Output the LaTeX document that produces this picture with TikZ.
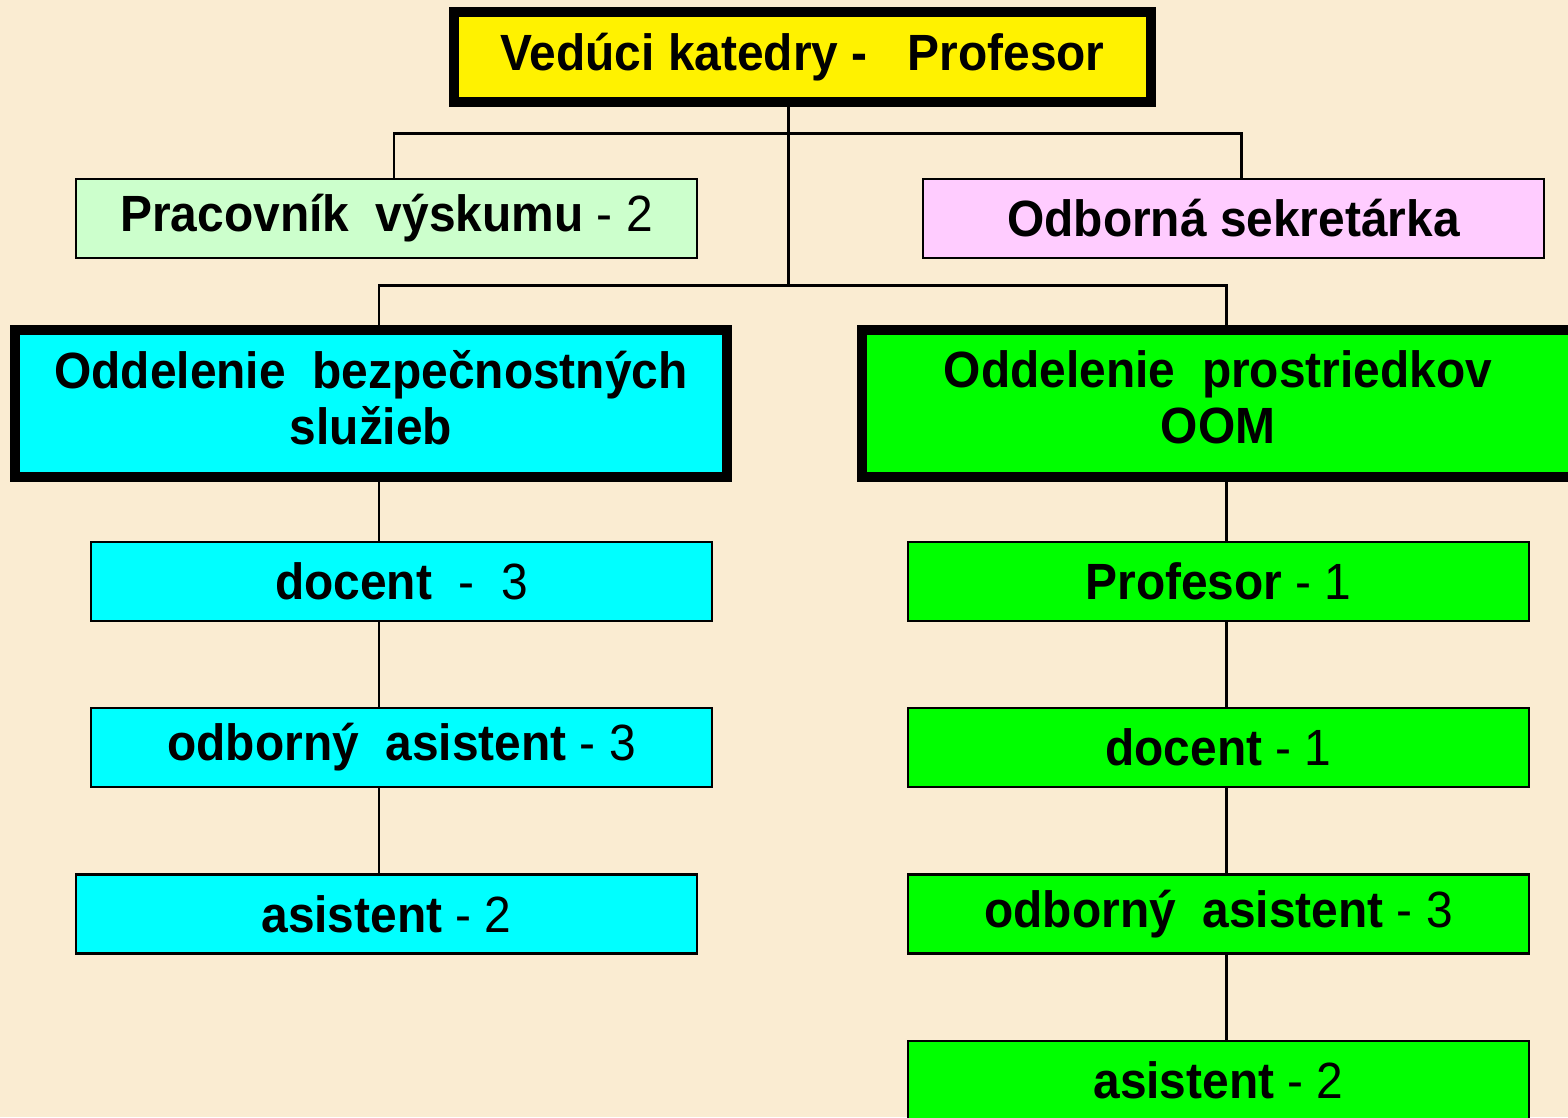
\documentclass[tikz,border=0pt]{standalone}
\usepackage{fontspec}
\setmainfont[FakeStretch=0.94]{Liberation Sans}
\definecolor{parch}{RGB}{250,236,210}
\definecolor{mint}{RGB}{204,255,204}
\definecolor{pinkbox}{RGB}{255,204,255}
\definecolor{cyanbox}{RGB}{0,255,255}
\definecolor{greenbox}{RGB}{0,255,0}
\tikzset{
  head/.style={draw=black,line width=5.7pt,inner sep=0pt,align=center,
    font=\bfseries\fontsize{29}{32}\selectfont},
  dept/.style={head,minimum width=712*0.02cm,minimum height=147*0.02cm,text depth=7pt},
  post/.style={draw=black,line width=1.2pt,inner sep=0pt,
    minimum width=621*0.02cm,minimum height=79*0.02cm,
    font=\bfseries\fontsize{29}{32}\selectfont},
  link/.style={line width=1.7pt}
}
\begin{document}
\begin{tikzpicture}[x=0.02cm,y=-0.02cm]
      \useasboundingbox (0,0) rectangle (1568,1117);
      \fill[parch] (0,0) rectangle (1568,1117);
      \node[head,fill=yellow,minimum width=697*0.02cm,minimum height=90*0.02cm] (chief) at (802.5,57) {Vedúci katedry -\ \ \ Profesor};
      \node[post,fill=mint] (res) at (386.5,218.5) {Pracovník\ \ výskumu \mdseries - 2};
      \node[post,fill=pinkbox] (sec) at (1233.5,218.5) {Odborná sekretárka};
      \node[dept,fill=cyanbox] (secdep) at (371,403.5) {Oddelenie\ \ bezpečnostných\\služieb};
      \node[dept,fill=greenbox] (oomdep) at (1218,403.5) {Oddelenie\ \ prostriedkov\\OOM};
      \node[post,fill=cyanbox] (ldoc) at (401.5,581.5) {docent\ \ \mdseries -\ \ 3};
      \node[post,fill=cyanbox] (lodb) at (401.5,747.5) {odborný\ \ asistent \mdseries - 3};
      \node[post,fill=cyanbox] (lasi) at (386.5,914) {asistent \mdseries - 2};
      \node[post,fill=greenbox] (rprof) at (1218.5,581.5) {Profesor \mdseries - 1};
      \node[post,fill=greenbox] (rdoc) at (1218.5,747.5) {docent \mdseries - 1};
      \node[post,fill=greenbox] (rodb) at (1218.5,914) {odborný\ \ asistent \mdseries - 3};
      \node[post,fill=greenbox] (rasi) at (1218.5,1080.5) {asistent \mdseries - 2};
      \coordinate (trunkTop) at (788,133);
      \coordinate (trunkBot) at (788,285);
      \coordinate (resTap) at (394,133);
      \coordinate (secTap) at (1241,133);
      \coordinate (leftCol) at (379,285);
      \coordinate (rightCol) at (1226,285);
      \draw[link] (chief.south -| trunkTop) -- (trunkBot);
      \draw[link] (res.north -| resTap) |- (secTap) -- (sec.north -| secTap);
      \draw[link] (secdep.north -| leftCol) |- (rightCol) -- (oomdep.north -| rightCol);
      \foreach \a/\b in {secdep/ldoc,ldoc/lodb,lodb/lasi}
        \draw[link] (\a.south -| leftCol) -- (\b.north -| leftCol);
      \foreach \a/\b in {oomdep/rprof,rprof/rdoc,rdoc/rodb,rodb/rasi}
        \draw[link] (\a.south -| rightCol) -- (\b.north -| rightCol);
    \end{tikzpicture}
\end{document}
